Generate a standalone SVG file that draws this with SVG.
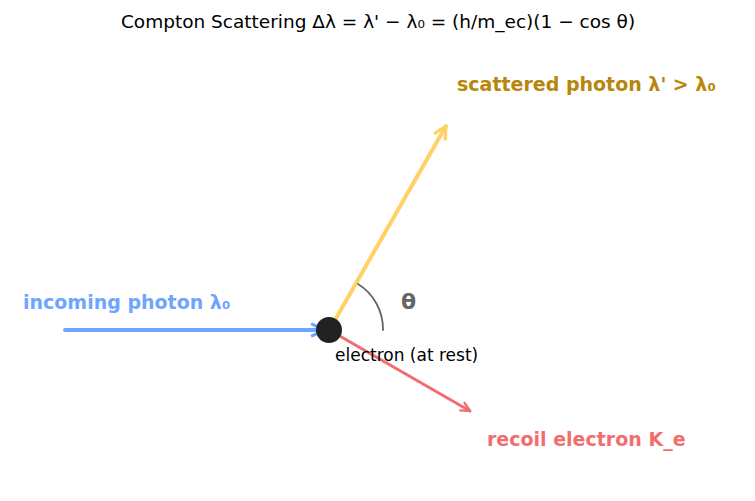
<svg xmlns="http://www.w3.org/2000/svg" width="755" height="501" viewBox="0 0 755 501">
<style>
text{font-family:"DejaVu Sans",sans-serif}
.lbl{font-size:19px;font-weight:bold}
</style>
<defs>
<marker id="mb" viewBox="0 0 10 10" refX="9" refY="5" markerWidth="4" markerHeight="4" orient="auto"><path d="M1,1 L9,5 L1,9" fill="none" stroke="#6ea6ff" stroke-width="2"/></marker>
<marker id="my" viewBox="0 0 10 10" refX="9" refY="5" markerWidth="4" markerHeight="4" orient="auto"><path d="M1,1 L9,5 L1,9" fill="none" stroke="#ffd166" stroke-width="2"/></marker>
<marker id="mr" viewBox="0 0 10 10" refX="9" refY="5" markerWidth="4" markerHeight="4" orient="auto"><path d="M1,1 L9,5 L1,9" fill="none" stroke="#f06e6e" stroke-width="2"/></marker>
</defs>
<rect width="755" height="501" fill="#fff"/>
<text x="378" y="28" font-size="18.5" text-anchor="middle">Compton Scattering   Δλ = λ' − λ₀ = (h/m_ec)(1 − cos θ)</text>
<g id="connectors" fill="none" stroke-linecap="round">
<line x1="65" y1="330" x2="324" y2="330" stroke="#6ea6ff" stroke-width="4" marker-end="url(#mb)"/>
<line x1="331" y1="327" x2="446" y2="126" stroke="#ffd166" stroke-width="4" marker-end="url(#my)"/>
<line x1="331" y1="331" x2="470" y2="411" stroke="#f06e6e" stroke-width="3" marker-end="url(#mr)"/>
<path d="M358,284 A53,53 0 0 1 383,330" stroke="#666" stroke-width="1.8"/>
</g>
<g id="electron"><circle cx="329" cy="330" r="13" fill="#222"/><text x="335" y="361" font-size="17">electron (at rest)</text></g>
<g id="incoming"><text class="lbl" x="23" y="309" fill="#6ea6ff">incoming photon  λ₀</text></g>
<g id="scattered"><text class="lbl" x="457" y="91" fill="#b8860b">scattered photon  λ' &gt; λ₀</text></g>
<g id="recoil"><text class="lbl" x="487" y="446" fill="#f06e6e">recoil electron  K_e</text></g>
<g id="theta"><text x="401" y="309" font-size="22" font-weight="bold" fill="#666">θ</text></g>
</svg>
